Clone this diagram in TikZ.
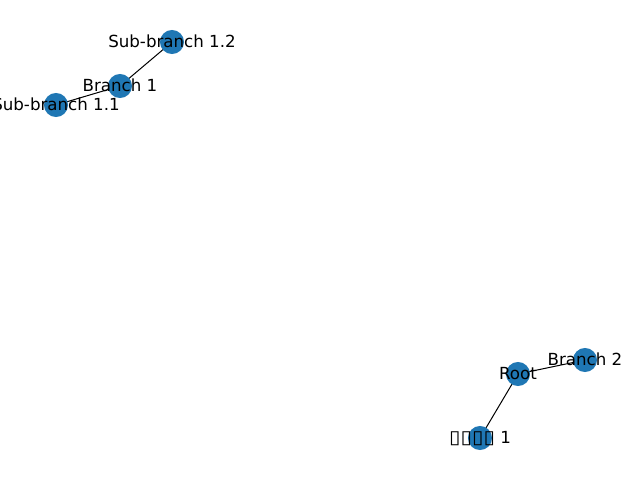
\documentclass[tikz,border=0pt]{standalone}
\usepackage{fontspec}
\setmainfont{DejaVu Sans}
\definecolor{nodeblue}{HTML}{1F77B4}
\begin{document}
\begin{tikzpicture}[x=0.72pt,y=-0.72pt,
  dot/.style={circle,fill=nodeblue,minimum size=17.3pt,inner sep=0pt},
  lbl/.style={inner sep=0pt,font=\fontsize{12pt}{14pt}\selectfont,text height=9.2pt,text depth=2.6pt,anchor=center,yshift=-1pt},
  edge/.style={draw=black,line width=0.72pt}]
\useasboundingbox (0,0) rectangle (640,480);
\coordinate (pS12) at (172,42);
\coordinate (pB1) at (120,86);
\coordinate (pS11) at (56,105);
\coordinate (pR) at (518,374);
\coordinate (pB2) at (585,360);
\coordinate (pC) at (480,438);
\draw[edge] (pB1) -- (pS12);
\draw[edge] (pB1) -- (pS11);
\draw[edge] (pR) -- (pB2);
\draw[edge] (pR) -- (pC);
\node[dot] (S12) at (pS12) {};
\node[dot] (B1) at (pB1) {};
\node[dot] (S11) at (pS11) {};
\node[dot] (R) at (pR) {};
\node[dot] (B2) at (pB2) {};
\node[dot] (C) at (pC) {};
\node[lbl] (tS12) at (pS12) {Sub-branch 1.2};
\node[lbl] (tB1) at (pB1) {Branch 1};
\node[lbl] (tS11) at (pS11) {Sub-branch 1.1};
\node[lbl] (tR) at (pR) {Root};
\node[lbl] (tB2) at (pB2) {Branch 2};
\node[lbl] (tC) at (pC) {\scalebox{1.25}[1.1]{▯}\scalebox{1.25}[1.1]{▯}\scalebox{1.25}[1.1]{▯}\scalebox{1.25}[1.1]{▯} 1};
\end{tikzpicture}
\end{document}
